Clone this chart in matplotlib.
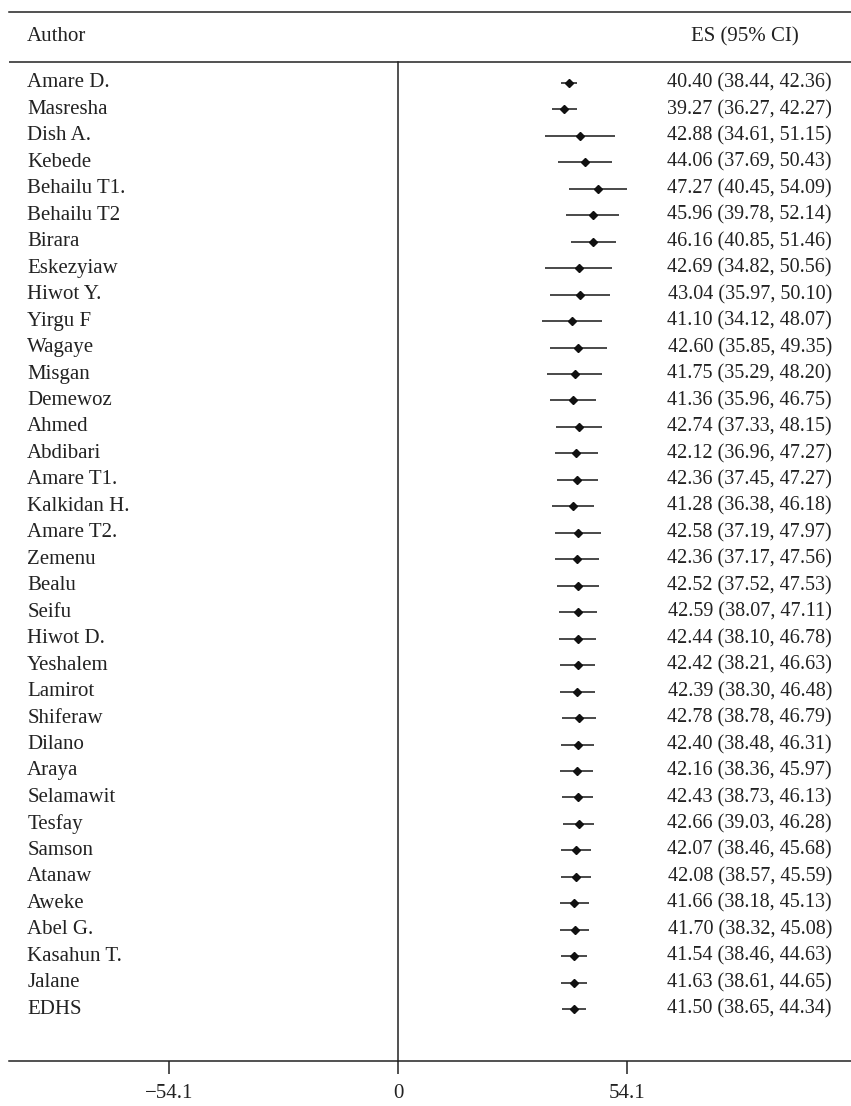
import matplotlib
matplotlib.use('Agg')
import matplotlib.pyplot as plt

authors = ['Amare D.', 'Masresha', 'Dish A.', 'Kebede', 'Behailu T1.', 'Behailu T2',
           'Birara', 'Eskezyiaw', 'Hiwot Y.', 'Yirgu F', 'Wagaye', 'Misgan',
           'Demewoz', 'Ahmed', 'Abdibari', 'Amare T1.', 'Kalkidan H.', 'Amare T2.',
           'Zemenu', 'Bealu', 'Seifu', 'Hiwot D.', 'Yeshalem', 'Lamirot',
           'Shiferaw', 'Dilano', 'Araya', 'Selamawit', 'Tesfay', 'Samson',
           'Atanaw', 'Aweke', 'Abel G.', 'Kasahun T.', 'Jalane', 'EDHS']
es = [40.40, 39.27, 42.88, 44.06, 47.27, 45.96, 46.16, 42.69, 43.04, 41.10,
      42.60, 41.75, 41.36, 42.74, 42.12, 42.36, 41.28, 42.58, 42.36, 42.52,
      42.59, 42.44, 42.42, 42.39, 42.78, 42.40, 42.16, 42.43, 42.66, 42.07,
      42.08, 41.66, 41.70, 41.54, 41.63, 41.50]
ci_low = [38.44, 36.27, 34.61, 37.69, 40.45, 39.78, 40.85, 34.82, 35.97, 34.12,
          35.85, 35.29, 35.96, 37.33, 36.96, 37.45, 36.38, 37.19, 37.17, 37.52,
          38.07, 38.10, 38.21, 38.30, 38.78, 38.48, 38.36, 38.73, 39.03, 38.46,
          38.57, 38.18, 38.32, 38.46, 38.61, 38.65]
ci_high = [42.36, 42.27, 51.15, 50.43, 54.09, 52.14, 51.46, 50.56, 50.10, 48.07,
           49.35, 48.20, 46.75, 48.15, 47.27, 47.27, 46.18, 47.97, 47.56, 47.53,
           47.11, 46.78, 46.63, 46.48, 46.79, 46.31, 45.97, 46.13, 46.28, 45.68,
           45.59, 45.13, 45.08, 44.63, 44.65, 44.34]
xticks = [-54.1, 0, 54.1]

plt.rcParams['font.family'] = ['Liberation Serif', 'DejaVu Serif']
fs = 15
ink = '#222222'

fig = plt.figure(figsize=(8.51, 11.06), dpi=100)
# axes spans from the top rule down to the bottom axis line
ax = fig.add_axes([9 / 851, 1 - 1061 / 1106, 842 / 851, (1061 - 12) / 1106])

n = len(authors)
rows = list(range(n))
top, header_line, bottom = -2.68, -0.79, 36.96
ax.set_ylim(bottom, top)
ax.set_xlim(-91.9, 107.0)

ax.hlines(rows, ci_low, ci_high, color='#3a3a3a', lw=1.3)
ax.plot(es, rows, 'D', color='#111111', ms=4.3, ls='none')

ax.axhline(header_line, color=ink, lw=1.1)
ax.plot([0, 0], [header_line, bottom], color=ink, lw=1.1, clip_on=False)

for side in ['left', 'right']:
    ax.spines[side].set_visible(False)
for side in ['top', 'bottom']:
    ax.spines[side].set_color(ink)
    ax.spines[side].set_linewidth(1.1)

ax.set_yticks([])
ax.set_xticks(xticks)
ax.set_xticklabels(['\u221254.1', '0', '54.1'])
ax.tick_params(axis='x', direction='out', length=9.5, width=1.1, color=ink,
               labelsize=fs, pad=7, labelcolor=ink)

ax.text(-87.6, -1.75, 'Author', ha='left', va='center', fontsize=fs, color=ink)
ax.text(82.0, -1.75, 'ES (95% CI)', ha='center', va='center', fontsize=fs, color=ink)

for i in rows:
    ax.text(-87.6, i, authors[i], ha='left', va='center', fontsize=fs, color=ink)
    label = f'{es[i]:.2f} ({ci_low[i]:.2f}, {ci_high[i]:.2f})'
    ax.text(102.5, i, label, ha='right', va='center', fontsize=14.5, color=ink)

fig.savefig('out.png', dpi=100)
